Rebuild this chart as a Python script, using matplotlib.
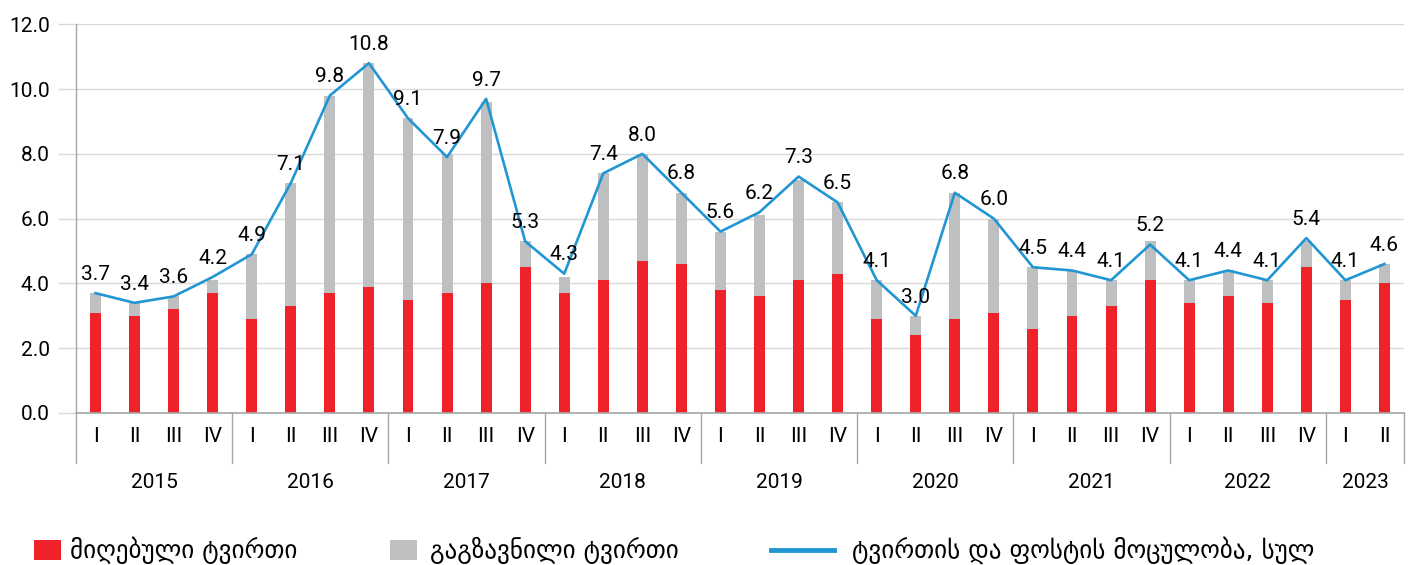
import matplotlib
matplotlib.use("Agg")
import matplotlib.pyplot as plt
import matplotlib.transforms as mtransforms
from matplotlib.patches import Rectangle
from matplotlib.lines import Line2D
import numpy as np

years = ["2015", "2016", "2017", "2018", "2019", "2020", "2021", "2022", "2023"]
quarters_per_year = [4, 4, 4, 4, 4, 4, 4, 4, 2]
roman = ["I", "II", "III", "IV"]

received = [3.1, 3.0, 3.2, 3.7,
            2.9, 3.3, 3.7, 3.9,
            3.5, 3.7, 4.0, 4.5,
            3.7, 4.1, 4.7, 4.6,
            3.8, 3.6, 4.1, 4.3,
            2.9, 2.4, 2.9, 3.1,
            2.6, 3.0, 3.3, 4.1,
            3.4, 3.6, 3.4, 4.5,
            3.5, 4.0]
sent = [0.6, 0.4, 0.4, 0.4,
        2.0, 3.8, 6.1, 6.9,
        5.6, 4.3, 5.6, 0.8,
        0.5, 3.3, 3.3, 2.2,
        1.8, 2.5, 3.1, 2.2,
        1.2, 0.6, 3.9, 2.9,
        1.9, 1.4, 0.8, 1.2,
        0.7, 0.8, 0.7, 0.8,
        0.6, 0.6]
total = [3.7, 3.4, 3.6, 4.2,
         4.9, 7.1, 9.8, 10.8,
         9.1, 7.9, 9.7, 5.3,
         4.3, 7.4, 8.0, 6.8,
         5.6, 6.2, 7.3, 6.5,
         4.1, 3.0, 6.8, 6.0,
         4.5, 4.4, 4.1, 5.2,
         4.1, 4.4, 4.1, 5.4,
         4.1, 4.6]

legend_labels = ["მიღებული ტვირთი", "გაგზავნილი ტვირთი", "ტვირთის და ფოსტის მოცულობა, სულ"]

RED = "#EE2229"
GRAY = "#BEBFC1"
BLUE = "#2196D3"
GRID = "#D9D9D9"
AXIS = "#A6A6A6"

plt.rcParams['font.family'] = ['Roboto', 'DejaVu Sans']

W, H = 1414, 565
fig = plt.figure(figsize=(W / 100, H / 100), dpi=100)
ax = fig.add_axes([76 / W, (H - 413) / H, 1328 / W, (413 - 24.3) / H])

n = len(total)
x = np.arange(n)
bw = 0.28
ax.bar(x, received, width=bw, color=RED, zorder=2)
ax.bar(x, sent, width=bw, bottom=received, color=GRAY, zorder=2)
ax.plot(x, total, color=BLUE, lw=1.9, zorder=3)

for xi, v in zip(x, total):
    ax.annotate(f"{v:.1f}", (xi, v), xytext=(0, 13.5), textcoords="offset points",
                ha="center", va="center", fontsize=15, color="black", zorder=4)

ax.set_xlim(-0.5, n - 0.5)
ax.set_ylim(0, 12)
ax.set_yticks(np.arange(0, 12.1, 2))
ax.set_yticklabels([f"{t:.1f}" for t in np.arange(0, 12.1, 2)], fontsize=15)
ax.yaxis.grid(True, color=GRID, lw=1.0, zorder=0)
ax.set_axisbelow(True)
ax.tick_params(axis="y", length=13, color=GRID, width=1.0, pad=6)
ax.set_xticks([])
for s in ["top", "right"]:
    ax.spines[s].set_visible(False)
ax.spines["left"].set_color(AXIS)
ax.spines["bottom"].set_color(AXIS)
ax.spines["left"].set_linewidth(1.0)
ax.spines["bottom"].set_linewidth(1.2)

trans = mtransforms.blended_transform_factory(ax.transData, ax.transAxes)
axh = 413 - 24.3
q_y = -24 / axh
yr_y = -70 / axh
sep_y = -50 / axh

pos = 0
bounds = [-0.5]
for yr, nq in zip(years, quarters_per_year):
    for q in range(nq):
        ax.text(pos + q, q_y, roman[q], transform=trans, ha="center", va="center", fontsize=15)
    ax.text(pos + (nq - 1) / 2, yr_y, yr, transform=trans, ha="center", va="center", fontsize=15)
    pos += nq
    bounds.append(pos - 0.5)
for b in bounds:
    ax.add_line(Line2D([b, b], [0, sep_y], transform=trans, color=AXIS, lw=1.0, clip_on=False))

# manual legend (figure pixel coordinates converted to fractions)
ly = (H - 550) / H
fig.patches.append(Rectangle((34 / W, (H - 560) / H), 27 / W, 20 / H, transform=fig.transFigure,
                             facecolor=RED, edgecolor="none"))
fig.patches.append(Rectangle((390 / W, (H - 560) / H), 27 / W, 20 / H, transform=fig.transFigure,
                             facecolor=GRAY, edgecolor="none"))
fig.lines.append(Line2D([771 / W, 834 / W], [ly, ly], transform=fig.transFigure, color=BLUE, lw=3.5))
for xt, lab in zip([70, 430, 852], legend_labels):
    fig.text(xt / W, ly, lab, ha="left", va="center", fontsize=18, family=['DejaVu Sans'])

fig.savefig("out.png", dpi=100)
